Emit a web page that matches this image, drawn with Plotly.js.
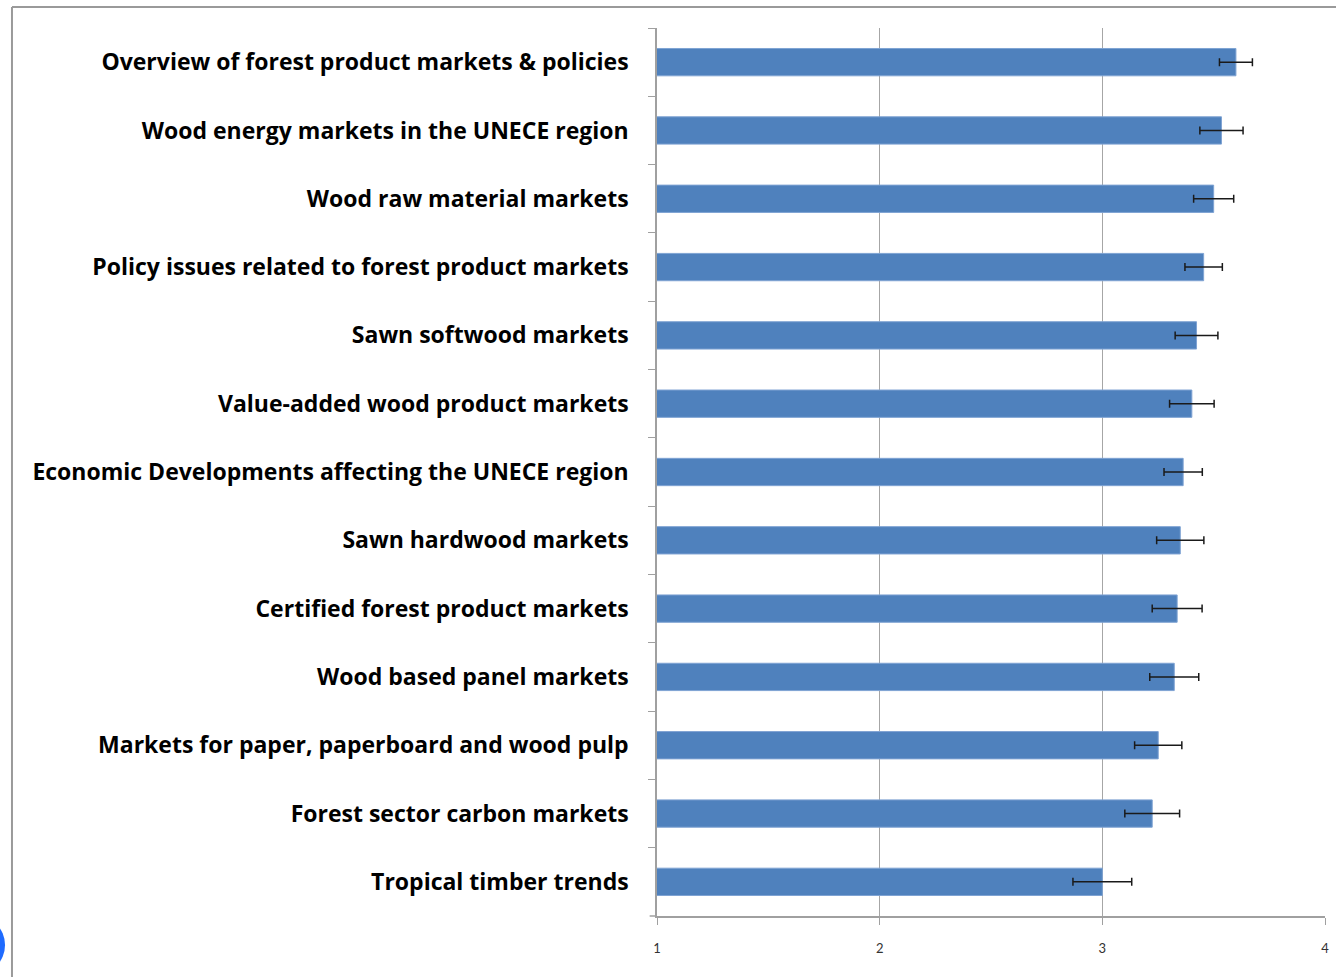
<!DOCTYPE html>
<html>
<head>
<meta charset="utf-8">
<script src="https://cdn.plot.ly/plotly-3.0.1.min.js"></script>
<style>
html,body{margin:0;padding:0;background:#fff;}
#chart{width:1336px;height:977px;}
</style>
</head>
<body>
<div id="chart"></div>
<script>
// Categories, top to bottom
const categories = [
  "Overview of forest product markets & policies",
  "Wood energy markets in the UNECE region",
  "Wood raw material markets",
  "Policy issues related to forest product markets",
  "Sawn softwood markets",
  "Value-added wood product markets",
  "Economic Developments affecting the UNECE region",
  "Sawn hardwood markets",
  "Certified forest product markets",
  "Wood based panel markets",
  "Markets for paper, paperboard and wood pulp",
  "Forest sector carbon markets",
  "Tropical timber trends"
];
const meanScores = [3.60, 3.535, 3.50, 3.455, 3.423, 3.402, 3.363, 3.35, 3.336, 3.323, 3.251, 3.224, 3.00];
const errorMargins = [0.074, 0.097, 0.09, 0.084, 0.096, 0.10, 0.086, 0.106, 0.112, 0.11, 0.106, 0.123, 0.132];
const xTickValues = [1, 2, 3, 4];
const xTickLabels = ["1", "2", "3", "4"];

const trace = {
  type: "bar",
  orientation: "h",
  y: categories,
  x: meanScores,
  width: 0.4,
  marker: {color: "#4F81BD", line: {color: "#7FA3D3", width: 1}},
  error_x: {type: "data", array: errorMargins, visible: true, color: "#1a1a1a", thickness: 1.5, width: 4},
  hoverinfo: "x+y"
};

const layout = {
  width: 1336,
  height: 977,
  margin: {l: 657, r: 11, t: 28, b: 61},
  paper_bgcolor: "#ffffff",
  plot_bgcolor: "#ffffff",
  showlegend: false,
  bargap: 0.6,
  xaxis: {
    range: [1, 4],
    tickvals: xTickValues,
    ticktext: xTickLabels,
    showgrid: true,
    gridcolor: "#a6a6a6",
    gridwidth: 1.2,
    showline: true,
    linecolor: "#a0a0a0",
    linewidth: 1.5,
    ticks: "outside",
    ticklen: 7,
    tickcolor: "#a0a0a0",
    tickfont: {family: "Lato, 'DejaVu Sans', sans-serif", size: 13, color: "#333333"},
    ticklabelstandoff: 13,
    zeroline: false,
    fixedrange: true
  },
  yaxis: {
    type: "category",
    autorange: "reversed",
    showline: true,
    linecolor: "#a0a0a0",
    linewidth: 1.5,
    ticks: "outside",
    tickson: "boundaries",
    ticklen: 7,
    tickcolor: "#a0a0a0",
    showgrid: false,
    tickfont: {family: "'Open Sans', Lato, sans-serif", size: 23, color: "#000000", weight: "bold"},
    ticklabelstandoff: 22,
    fixedrange: true
  },
  shapes: [
    // outer frame: left and top border of the chart area
    {type: "line", xref: "paper", yref: "paper", x0: -0.9656, x1: -0.9656, y0: 1.0236, y1: -0.07, line: {color: "#9a9a9a", width: 2}},
    {type: "line", xref: "paper", yref: "paper", x0: -0.9656, x1: 1.02, y0: 1.0236, y1: 1.0236, line: {color: "#9a9a9a", width: 2}},
    // short extension of the x axis line to the left of the y axis
    {type: "line", xref: "paper", yref: "paper", x0: -0.011, x1: 0, y0: 0, y1: 0, line: {color: "#a0a0a0", width: 1.5}},
    // partial blue circle at bottom-left corner
    {type: "circle", xref: "paper", yref: "paper", x0: -1.0659, x1: -0.9760, y0: -0.0664, y1: 0.0011, fillcolor: "#1f6bff", line: {width: 0}}
  ]
};

Plotly.newPlot("chart", [trace], layout, {displayModeBar: false});
</script>
</body>
</html>
